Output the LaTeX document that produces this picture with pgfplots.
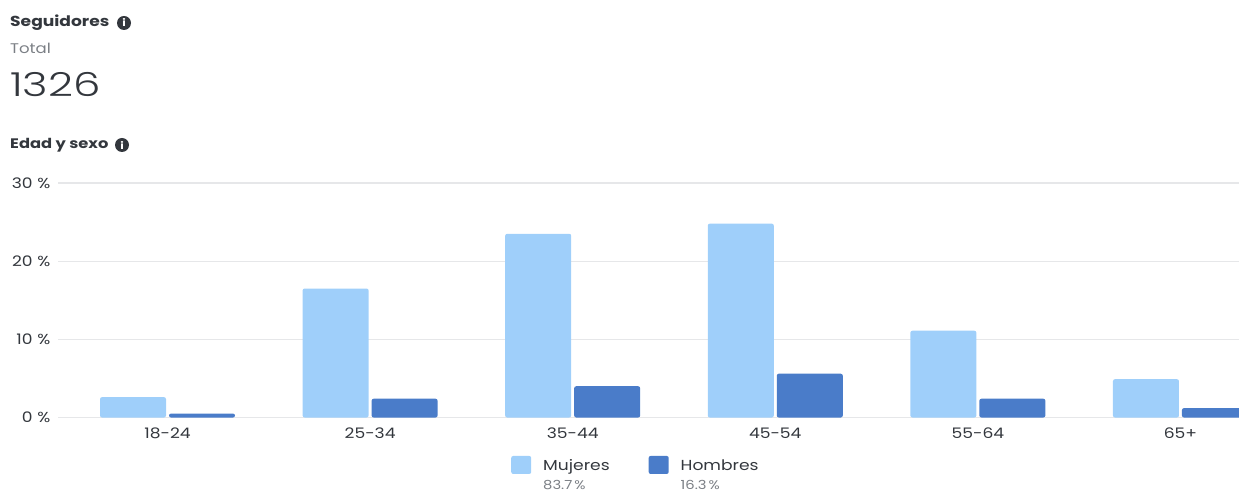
\documentclass[border=0pt]{standalone}
\usepackage{pgfplots}
\pgfplotsset{compat=1.18}
\usepackage{fontspec}
\setmainfont[FakeStretch=1.18]{Poppins}
\newfontfamily\widefont[FakeStretch=1.32]{Poppins Light}
\definecolor{lightb}{HTML}{9FCFFA}
\definecolor{darkb}{HTML}{4A7CC9}
\definecolor{txt}{HTML}{33373D}
\definecolor{sub}{HTML}{7B7F85}
\definecolor{gridc}{HTML}{E6E7E9}
\newcommand{\info}[2]{\node[circle,fill=txt,inner sep=0pt,minimum size=14pt,text=white,font=\fontsize{10}{10}\selectfont\bfseries] at (#1pt,#2pt) {i};}
\newcommand{\legtext}[2]{\shortstack[l]{\vphantom{Mjy}#1\\[2.5pt]{\fontsize{12.5}{13}\selectfont\color{sub}\vphantom{M}#2\,\%}}}
\begin{document}
\begin{tikzpicture}[x=1pt,y=1pt]
\path[use as bounding box] (0,0) rectangle (1239,490);
\begin{axis}[
  at={(58pt,72.5pt)},anchor=south west,
  scale only axis,width=1181pt,height=234.5pt,
  xmin=-0.5405,xmax=5.289,ymin=0,ymax=30,
  axis line style={draw=none},
  tick style={draw=none},
  ymajorgrids,grid style={gridc,line width=1.2pt},
  ytick={0,10,20,30},
  yticklabels={0\,\,\%,10\,\,\%,20\,\,\%,30\,\,\%},
  xtick={0,1,2,3,4,5},
  xticklabels={18-24,25-34,35-44,45-54,55-64,65+},
  ticklabel style={font=\fontsize{14.5}{16}\selectfont,text=txt},
  xticklabel style={yshift=-7pt},
  yticklabel style={xshift=-4pt},
  legend columns=2,
  legend style={at={(0.4885,-0.164)},anchor=north,draw=none,fill=none,inner sep=0pt,outer sep=0pt,
    /tikz/every odd column/.append style={column sep=12pt},
    /tikz/every even column/.append style={column sep=39pt},
    nodes={inner sep=0pt,anchor=west,font=\fontsize{14.5}{18}\selectfont,text=txt}},
  legend cell align=left,
  legend image code/.code={\fill[#1,draw=none,rounded corners=2pt] (0pt,1.5pt) rectangle (20pt,19.5pt);},
]
\addplot[ybar,bar width=66pt,bar shift=-34.5pt,fill=lightb,draw=none,rounded corners=2pt] coordinates {(0,2.6)(1,16.5)(2,23.5)(3,24.8)(4,11.1)(5,4.9)};
\addplot[ybar,bar width=66pt,bar shift=34.5pt,fill=darkb,draw=none,rounded corners=2pt] coordinates {(0,0.5)(1,2.4)(2,4.0)(3,5.6)(4,2.4)(5,1.2)};
\legend{{\legtext{Mujeres}{83.7}},{\legtext{Hombres}{16.3}}}
\end{axis}
\node[anchor=west,inner sep=0pt,text=txt,font=\fontsize{14.5}{16}\selectfont\bfseries] at (10,467) {Seguidores};
\info{124}{467}
\node[anchor=west,inner sep=0pt,text=sub,font=\fontsize{14}{16}\selectfont] at (10,442) {Total};
\node[anchor=west,inner sep=0pt,text=txt,font=\widefont\fontsize{33}{36}\selectfont] at (10,405) {1326};
\node[anchor=west,inner sep=0pt,text=txt,font=\fontsize{13.8}{16}\selectfont\bfseries] at (10,345) {Edad y sexo};
\info{122}{345}
\end{tikzpicture}
\end{document}
